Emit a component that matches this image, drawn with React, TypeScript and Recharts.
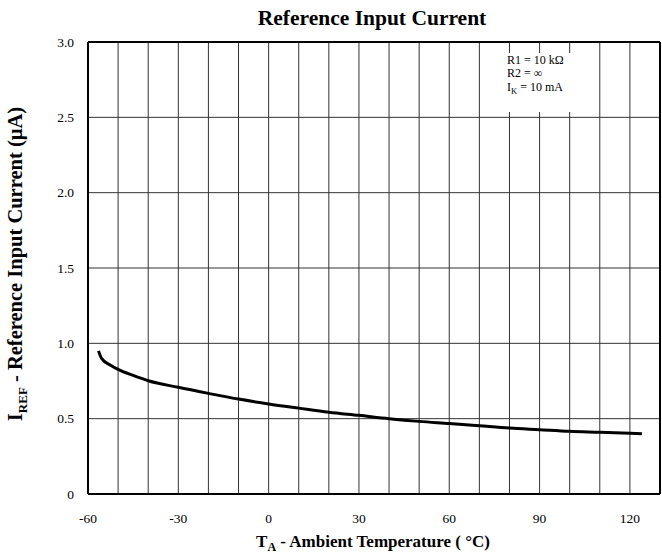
import React from 'react';
import { LineChart, Line, XAxis, YAxis, ReferenceLine } from 'recharts';

const temperature = [-56.5, -55.5, -52.5, -50, -45, -40, -30, -20, -10, 0, 10, 20, 30, 40, 50, 60, 70, 80, 90, 100, 110, 120, 124];
const currentUA = [0.95, 0.9, 0.855, 0.827, 0.787, 0.752, 0.708, 0.668, 0.63, 0.598, 0.57, 0.543, 0.522, 0.5, 0.482, 0.468, 0.453, 0.438, 0.427, 0.416, 0.41, 0.403, 0.4];
const xTicks = [-60, -30, 0, 30, 60, 90, 120];
const yTicks = [0, 0.5, 1, 1.5, 2, 2.5, 3];
const xGrid = [-50, -40, -30, -20, -10, 0, 10, 20, 30, 40, 50, 60, 70, 80, 90, 100, 110, 120];
const yGrid = [0.5, 1, 1.5, 2, 2.5];

const data = temperature.map((t, i) => ({ t, i: currentUA[i] }));

const FONT = '"Liberation Serif", "Times New Roman", serif';

export default function App() {
  return (
    <div style={{ position: 'absolute', left: 0, top: 0, width: 662, height: 560, background: '#fff', fontFamily: FONT }}>
      <LineChart width={662} height={560} data={data} margin={{ top: 42, right: 2, left: 28, bottom: 36 }}>
        {xGrid.map((g) => (
          <ReferenceLine key={'x' + g} x={g} stroke="#333" strokeWidth={1} />
        ))}
        {yGrid.map((g) => (
          <ReferenceLine key={'y' + g} y={g} stroke="#333" strokeWidth={1} />
        ))}
        <ReferenceLine x={130} stroke="#000" strokeWidth={2} />
        <ReferenceLine y={3} stroke="#000" strokeWidth={2} />
        <XAxis
          dataKey="t"
          type="number"
          domain={[-60, 130]}
          ticks={xTicks}
          height={30}
          tickLine={false}
          tickMargin={13}
          axisLine={{ stroke: '#000', strokeWidth: 2 }}
          tick={{ fill: '#000', fontSize: 13.5, fontFamily: FONT }}
          allowDataOverflow
        />
        <YAxis
          type="number"
          domain={[0, 3]}
          ticks={yTicks}
          width={60}
          tickLine={false}
          tickMargin={8}
          axisLine={{ stroke: '#000', strokeWidth: 2 }}
          tick={{ fill: '#000', fontSize: 13.5, fontFamily: FONT }}
          tickFormatter={(v: number) => (v === 0 ? '0' : v.toFixed(1))}
          allowDataOverflow
        />
        <Line dataKey="i" type="monotone" stroke="#000" strokeWidth={3} dot={false} isAnimationActive={false} />
      </LineChart>

      <div style={{ position: 'absolute', left: 372, top: 19, transform: 'translate(-50%,-50%)', fontWeight: 'bold', fontSize: 21.5, whiteSpace: 'nowrap', lineHeight: 1 }}>
        Reference Input Current
      </div>

      <div style={{ position: 'absolute', left: 373, top: 543, transform: 'translate(-50%,-50%)', fontWeight: 'bold', fontSize: 17, whiteSpace: 'nowrap', lineHeight: 1 }}>
        T<sub style={{ fontSize: 12 }}>A</sub> - Ambient Temperature ( °C)
      </div>

      <div style={{ position: 'absolute', left: 17, top: 264, transform: 'translate(-50%,-50%) rotate(-90deg)', fontWeight: 'bold', fontSize: 20.5, whiteSpace: 'nowrap', lineHeight: 1 }}>
        I<sub style={{ fontSize: 13 }}>REF</sub> - Reference Input Current (µA)
      </div>

      <div style={{ position: 'absolute', left: 482, top: 53, width: 116, height: 59, background: '#fff', fontSize: 12, lineHeight: '13.5px' }}>
        <div style={{ position: 'absolute', left: 25, top: 0.5, whiteSpace: 'nowrap' }}>R1 = 10 kΩ</div>
        <div style={{ position: 'absolute', left: 25, top: 14, whiteSpace: 'nowrap' }}>R2 = ∞</div>
        <div style={{ position: 'absolute', left: 25, top: 27.5, whiteSpace: 'nowrap' }}>
          I<sub style={{ fontSize: 8.5, lineHeight: 0 }}>K</sub> = 10 mA
        </div>
      </div>
    </div>
  );
}
